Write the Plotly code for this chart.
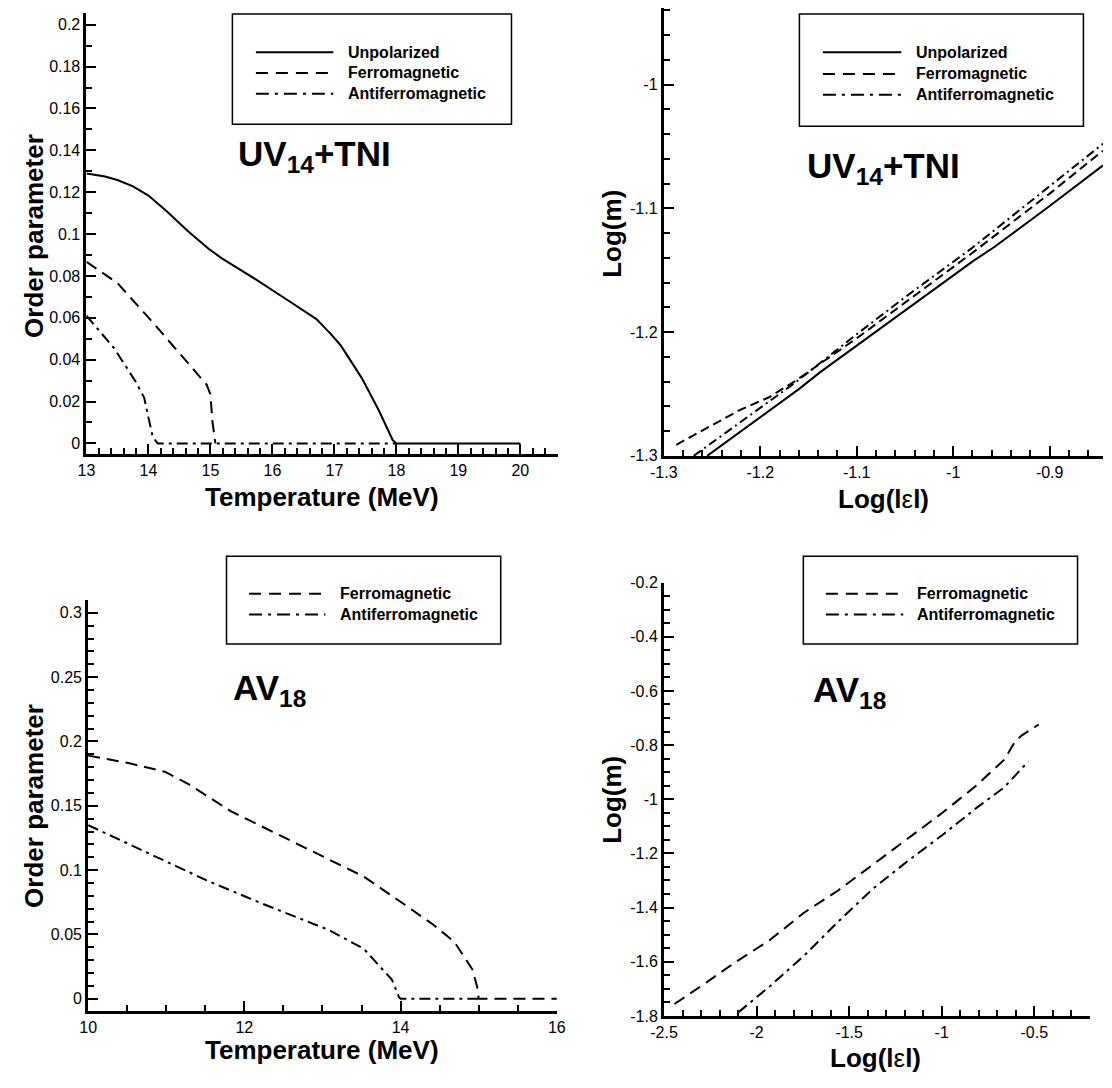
import numpy as np
import plotly.graph_objects as go

# ---------------- data ----------------
# Top-left: UV14+TNI, order parameter vs temperature
T_unpol_uv = [13.0, 13.3, 13.5, 13.75, 14.0, 14.29, 14.63, 14.97, 15.19, 15.75, 16.31, 16.71, 16.94, 17.1, 17.44, 17.72, 17.94, 18.0, 20.0]
m_unpol_uv = [0.1289, 0.1275, 0.1258, 0.1228, 0.1184, 0.1110, 0.1016, 0.0930, 0.0883, 0.0780, 0.0672, 0.0594, 0.0523, 0.0469, 0.0313, 0.0156, 0.0016, 0.0, 0.0]
T_ferro_uv = [13.0, 13.5, 14.07, 14.52, 14.94, 15.0, 15.03, 15.08]
m_ferro_uv = [0.0867, 0.0766, 0.0578, 0.0422, 0.0280, 0.0234, 0.0110, 0.0]
T_anti_uv = [13.0, 13.45, 13.79, 13.93, 14.01, 14.07, 14.15, 18.0]
m_anti_uv = [0.0610, 0.0453, 0.0297, 0.0219, 0.0110, 0.0030, 0.0, 0.0]

# Top-right: UV14+TNI, log(m) vs log|eps|
le_unpol_uv = [-1.255, -1.2, -1.16, -1.1378, -1.05, -0.9787, -0.957, -0.9, -0.8447]
lm_unpol_uv = [-1.3, -1.269, -1.246, -1.2323, -1.1825, -1.1422, -1.131, -1.098, -1.0652]
le_ferro_uv = [-1.287, -1.2214, -1.1908, -1.1636, -1.1, -1.05, -0.982, -0.9, -0.8447]
lm_ferro_uv = [-1.291, -1.263, -1.2526, -1.2394, -1.205, -1.176, -1.137, -1.088, -1.0533]
le_anti_uv = [-1.269, -1.22, -1.1636, -1.1, -1.05, -0.982, -0.9, -0.8447]
lm_anti_uv = [-1.3, -1.2724, -1.2407, -1.2017, -1.1718, -1.1329, -1.082, -1.0477]

# Bottom-left: AV18, order parameter vs temperature
T_ferro_av = [10.0, 10.53, 10.98, 11.29, 11.83, 12.63, 13.53, 13.98, 14.42, 14.69, 14.92, 14.98, 15.0, 16.0]
m_ferro_av = [0.189, 0.183, 0.1765, 0.1666, 0.1457, 0.1217, 0.0949, 0.0762, 0.0575, 0.0441, 0.0227, 0.0094, 0.0, 0.0]
T_anti_av = [10.0, 10.84, 11.51, 12.19, 13.08, 13.53, 13.89, 13.98, 14.0, 15.0]
m_anti_av = [0.135, 0.111, 0.0922, 0.0749, 0.0535, 0.0388, 0.0147, 0.0013, 0.0, 0.0]

# Bottom-right: AV18, log(m) vs log|eps|
le_ferro_av = [-2.444, -2.304, -2.118, -1.931, -1.744, -1.558, -1.371, -1.185, -0.998, -0.812, -0.662, -0.606, -0.569, -0.476]
lm_ferro_av = [-1.756, -1.692, -1.603, -1.521, -1.419, -1.336, -1.241, -1.146, -1.051, -0.949, -0.854, -0.790, -0.765, -0.724]
le_anti_av = [-2.099, -1.931, -1.744, -1.558, -1.371, -1.185, -0.998, -0.812, -0.662, -0.532]
lm_anti_av = [-1.787, -1.692, -1.578, -1.451, -1.330, -1.229, -1.133, -1.032, -0.956, -0.860]

# tick labels
x1_ticks = [13, 14, 15, 16, 17, 18, 19, 20]
x1_text = ["13", "14", "15", "16", "17", "18", "19", "20"]
y1_ticks = [0, 0.02, 0.04, 0.06, 0.08, 0.1, 0.12, 0.14, 0.16, 0.18, 0.2]
y1_text = ["0", "0.02", "0.04", "0.06", "0.08", "0.1", "0.12", "0.14", "0.16", "0.18", "0.2"]
x2_ticks = [-1.3, -1.2, -1.1, -1.0, -0.9]
x2_text = ["-1.3", "-1.2", "-1.1", "-1", "-0.9"]
y2_ticks = [-1.3, -1.2, -1.1, -1.0]
y2_text = ["-1.3", "-1.2", "-1.1", "-1"]
x3_ticks = [10, 12, 14, 16]
x3_text = ["10", "12", "14", "16"]
y3_ticks = [0, 0.05, 0.1, 0.15, 0.2, 0.25, 0.3]
y3_text = ["0", "0.05", "0.1", "0.15", "0.2", "0.25", "0.3"]
x4_ticks = [-2.5, -2.0, -1.5, -1.0, -0.5]
x4_text = ["-2.5", "-2", "-1.5", "-1", "-0.5"]
y4_ticks = [-1.8, -1.6, -1.4, -1.2, -1.0, -0.8, -0.6, -0.4, -0.2]
y4_text = ["-1.8", "-1.6", "-1.4", "-1.2", "-1", "-0.8", "-0.6", "-0.4", "-0.2"]

# ---------------- layout helpers ----------------
W, H = 1112, 1088
def fx(px):
    return px / W
def fy(py):
    return 1 - py / H

FONT = "Liberation Sans, Arial, Helvetica, sans-serif"
DASH = "12px,7px"
DASHDOT = "11px,5px,3px,5px"
DASH_S = "9px,5px"
DASHDOT_S = "9px,4px,2px,4px"

fig = go.Figure()

def add(x, y, xa, ya, dash, name):
    fig.add_trace(go.Scatter(x=x, y=y, mode="lines", name=name, showlegend=False,
                             xaxis=xa, yaxis=ya,
                             line=dict(color="black", width=2, dash=dash)))

add(T_unpol_uv, m_unpol_uv, "x", "y", "solid", "Unpolarized")
add(T_ferro_uv, m_ferro_uv, "x", "y", DASH, "Ferromagnetic")
add(T_anti_uv, m_anti_uv, "x", "y", DASHDOT, "Antiferromagnetic")
add(le_unpol_uv, lm_unpol_uv, "x2", "y2", "solid", "Unpolarized")
add(le_ferro_uv, lm_ferro_uv, "x2", "y2", DASH_S, "Ferromagnetic")
add(le_anti_uv, lm_anti_uv, "x2", "y2", DASHDOT_S, "Antiferromagnetic")
add(T_ferro_av, m_ferro_av, "x3", "y3", DASH, "Ferromagnetic")
add(T_anti_av, m_anti_av, "x3", "y3", DASHDOT, "Antiferromagnetic")
add(le_ferro_av, lm_ferro_av, "x4", "y4", DASH, "Ferromagnetic")
add(le_anti_av, lm_anti_av, "x4", "y4", DASHDOT, "Antiferromagnetic")

def axis(domain, rng, tickvals, ticktext, minor_vals, anchor):
    return dict(domain=domain, range=rng, anchor=anchor,
                showline=True, linecolor="black", linewidth=3, mirror=False,
                showgrid=False, zeroline=False,
                ticks="inside", ticklen=10, tickwidth=2, tickcolor="black",
                tickmode="array", tickvals=tickvals, ticktext=ticktext,
                tickfont=dict(family=FONT, size=16, color="black"),
                minor=dict(tickmode="array", tickvals=minor_vals, ticks="inside",
                           ticklen=6, tickwidth=1.5, tickcolor="black"))

def mvals(a, b, step):
    n = int(round((b - a) / step))
    return [round(a + i * step, 6) for i in range(n + 1)]

layout_axes = dict(
    xaxis=axis([fx(74), fx(555)], [13, 20.6], x1_ticks, x1_text, mvals(13, 20.6, 0.2), "y"),
    yaxis=axis([fy(453.3), fy(5)], [-0.00517, 0.20564], y1_ticks, y1_text, mvals(0, 0.2, 0.01), "x"),
    xaxis2=axis([fx(663.5), 1.0], [-1.3, -0.8447], x2_ticks, x2_text, mvals(-1.3, -0.86, 0.02), "y2"),
    yaxis2=axis([fy(455), 1.0], [-1.3, -0.938], y2_ticks, y2_text, mvals(-1.3, -0.94, 0.02), "x2"),
    xaxis3=axis([fx(75.7), fx(554.3)], [10, 16], x3_ticks, x3_text, mvals(10, 16, 0.5), "y3"),
    yaxis3=axis([fy(1018.7), fy(601)], [-0.00933, 0.31025], y3_ticks, y3_text, mvals(0, 0.31, 0.01), "x3"),
    xaxis4=axis([fx(663.8), fx(1098.5)], [-2.5, -0.2], x4_ticks, x4_text, mvals(-2.5, -0.2, 0.1), "y4"),
    yaxis4=axis([fy(1023.9), fy(583.7)], [-1.8, -0.2], y4_ticks, y4_text, mvals(-1.8, -0.2, 0.05), "x4"),
)

shapes = []
annotations = []

def legend_box(x0, y0, x1, y1, lx0, lx1, tx, rows):
    shapes.append(dict(type="rect", xref="paper", yref="paper",
                       x0=fx(x0), x1=fx(x1), y0=fy(y1), y1=fy(y0),
                       line=dict(color="black", width=1.5), fillcolor="white", layer="above"))
    for ry, dash, label in rows:
        shapes.append(dict(type="line", xref="paper", yref="paper",
                           x0=fx(lx0), x1=fx(lx1), y0=fy(ry), y1=fy(ry),
                           line=dict(color="black", width=2, dash=dash), layer="above"))
        annotations.append(dict(xref="paper", yref="paper", x=fx(tx), y=fy(ry),
                                xanchor="left", yanchor="middle", showarrow=False,
                                text="<b>%s</b>" % label,
                                font=dict(family=FONT, size=16, color="black")))

legend_box(223, 6, 508, 118, 247, 326, 339,
           [(45, "solid", "Unpolarized"), (66, "12px,8px", "Ferromagnetic"), (87, "13px,6px,3px,6px", "Antiferromagnetic")])
legend_box(802, 6, 1092, 120, 826, 906, 919,
           [(45, "solid", "Unpolarized"), (67, "12px,8px", "Ferromagnetic"), (88, "13px,6px,3px,6px", "Antiferromagnetic")])
legend_box(217, 557, 497, 646, 240, 318, 331,
           [(595, "12px,8px", "Ferromagnetic"), (616, "13px,6px,3px,6px", "Antiferromagnetic")])
legend_box(806, 557, 1086, 646, 829, 908, 920,
           [(595, "12px,8px", "Ferromagnetic"), (616, "13px,6px,3px,6px", "Antiferromagnetic")])

def text(px, py, s, size, angle=0, xanchor="center", yanchor="middle"):
    annotations.append(dict(xref="paper", yref="paper", x=fx(px), y=fy(py),
                            xanchor=xanchor, yanchor=yanchor, showarrow=False,
                            text=s, textangle=angle,
                            font=dict(family=FONT, size=size, color="black")))

# panel titles
text(227, 150, "<b>UV<sub>14</sub>+TNI</b>", 35, xanchor="left")
text(808, 163, "<b>UV<sub>14</sub>+TNI</b>", 35, xanchor="left")
text(222, 693, "<b>AV<sub>18</sub></b>", 35, xanchor="left")
text(814, 695, "<b>AV<sub>18</sub></b>", 35, xanchor="left")

# axis titles
text(21, 232, "<b>Order parameter</b>", 26, angle=-90)
text(314, 497, "<b>Temperature (MeV)</b>", 26)
text(611, 229, "<b>Log(m)</b>", 26, angle=-90)
text(888, 499, "<b>Log(l</b>ε<b>l)</b>", 26)
text(21, 811, "<b>Order parameter</b>", 26, angle=-90)
text(314, 1059, "<b>Temperature (MeV)</b>", 26)
text(611, 804, "<b>Log(m)</b>", 26, angle=-90)
text(880, 1067, "<b>Log(l</b>ε<b>l)</b>", 26)

fig.update_layout(width=W, height=H, margin=dict(l=0, r=0, t=0, b=0),
                  paper_bgcolor="white", plot_bgcolor="white",
                  showlegend=False, shapes=shapes, annotations=annotations,
                  **layout_axes)

fig.write_html("out.html")
